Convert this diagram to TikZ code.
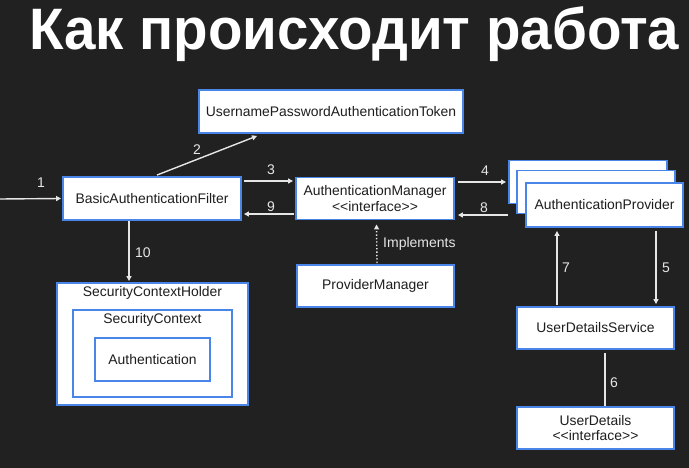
\documentclass[tikz,border=0pt]{standalone}
\usepackage{fontspec}
\setmainfont{Liberation Sans}
\usetikzlibrary{arrows.meta}
\definecolor{bg}{HTML}{212121}
\definecolor{boxblue}{HTML}{4A86E8}
\definecolor{txt}{HTML}{1E1E1E}
\definecolor{arrc}{HTML}{E6E6E6}
\begin{document}
\begin{tikzpicture}[x=1pt,y=-1pt,
  box/.style={draw=boxblue, line width=1.9pt, fill=white, text=txt, font=\fontsize{13.9}{15.5}\selectfont, inner sep=0pt, minimum width=#1, align=center},
  box/.default=158pt,
  arr/.style={draw=arrc, line width=1.4pt, -{Triangle[length=5pt,width=5pt]}},
  lbl/.style={text=arrc, font=\fontsize{14}{16}\selectfont, inner sep=0pt}]
\fill[bg] (0,0) rectangle (689,468);
\useasboundingbox (0,0) rectangle (689,468);
% title
\node[anchor=north west, inner sep=0pt, text=white] (title) at (29,6)
  {\resizebox*{650pt}{55pt}{\bfseries Как происходит работа}};
% nodes
\node[box=264pt, minimum height=43pt] (UPAT) at (331,111.5) {UsernamePasswordAuthenticationToken};
\node[box=178pt, minimum height=43pt] (BAF) at (152,198.5) {BasicAuthenticationFilter};
\node[box, minimum height=42pt] (AM) at (375,198.5) {AuthenticationManager\\{<}{<}interface{>}{>}};
\node[box=157pt, minimum height=42pt] (PM) at (375.5,286) {ProviderManager};
\node[box, minimum height=43pt] (APback) at (588,182) {};
\node[box, minimum height=43pt] (APmid) at (596,192) {};
\node[box=157pt, minimum height=44pt] (APfront) at (604.5,205) {AuthenticationProvider};
\node[box=157pt, minimum height=42pt] (UDS) at (595.5,328) {UserDetailsService};
\node[box=157pt, minimum height=42pt] (UD) at (595.5,428) {UserDetails\\{<}{<}interface{>}{>}};
\node[box=191pt, minimum height=122pt] (SCH) at (152.5,344) {};
\node[box=159pt, minimum height=87pt] (SC) at (152.5,353.5) {};
\node[box=115pt, minimum height=43pt] (AUTH) at (152.5,359.5) {Authentication};
\node[text=txt, font=\fontsize{13.9}{15.5}\selectfont, inner sep=0pt] (SCHl) at (152.5,292.5) {SecurityContextHolder};
\node[text=txt, font=\fontsize{13.9}{15.5}\selectfont, inner sep=0pt] (SCl) at (152.5,319.5) {SecurityContext};
% connectors
\coordinate (start) at (0,199);
\draw[arr] (start) -- ([xshift=-1pt]BAF.west);
\draw[arr] ([xshift=5pt,yshift=1pt]BAF.north) -- ([xshift=59pt,yshift=-2pt]UPAT.south west);
\draw[arr] ([xshift=2pt,yshift=17.5pt]BAF.east) -- ([xshift=-2pt,yshift=17.5pt]AM.west);
\draw[arr] ([xshift=-1pt,yshift=-15.5pt]AM.west) -- ([xshift=2pt,yshift=-15.5pt]BAF.east);
\draw[arr] ([xshift=3pt,yshift=16.5pt]AM.east) -- ([xshift=-2pt,yshift=0pt]APback.west);
\draw[arr] ([xshift=-17pt,yshift=-10pt]APfront.west) -- ([xshift=3pt,yshift=-16.5pt]AM.east);
\draw[arr, dotted] ([xshift=1.5pt,yshift=1pt]PM.north) -- ([xshift=1.5pt,yshift=-4pt]AM.south);
\draw[arr] ([xshift=-38.5pt,yshift=1pt]UDS.north) -- ([xshift=-47.5pt,yshift=-3pt]APfront.south);
\draw[arr] ([xshift=51.5pt,yshift=-3pt]APfront.south) -- ([xshift=60.5pt,yshift=2pt]UDS.north);
\draw[draw=arrc, line width=1.4pt] ([xshift=9.5pt,yshift=-3pt]UDS.south) -- ([xshift=9.5pt]UD.north);
\draw[arr] ([xshift=-23pt]BAF.south) -- ([xshift=-23.5pt,yshift=1pt]SCH.north);
% labels
\node[lbl] (l1) at (41,183) {1};
\node[lbl] (l2) at (197,150) {2};
\node[lbl] (l3) at (271,169.5) {3};
\node[lbl] (l9) at (271,207) {9};
\node[lbl] (l4) at (485,171) {4};
\node[lbl] (l8) at (484,207.5) {8};
\node[lbl] (l7) at (566,268) {7};
\node[lbl] (l5) at (666,268) {5};
\node[lbl] (l6) at (614,383) {6};
\node[lbl] (l10) at (143,253) {10};
\node[lbl, anchor=west] (limp) at (383,244) {Implements};
\end{tikzpicture}
\end{document}
